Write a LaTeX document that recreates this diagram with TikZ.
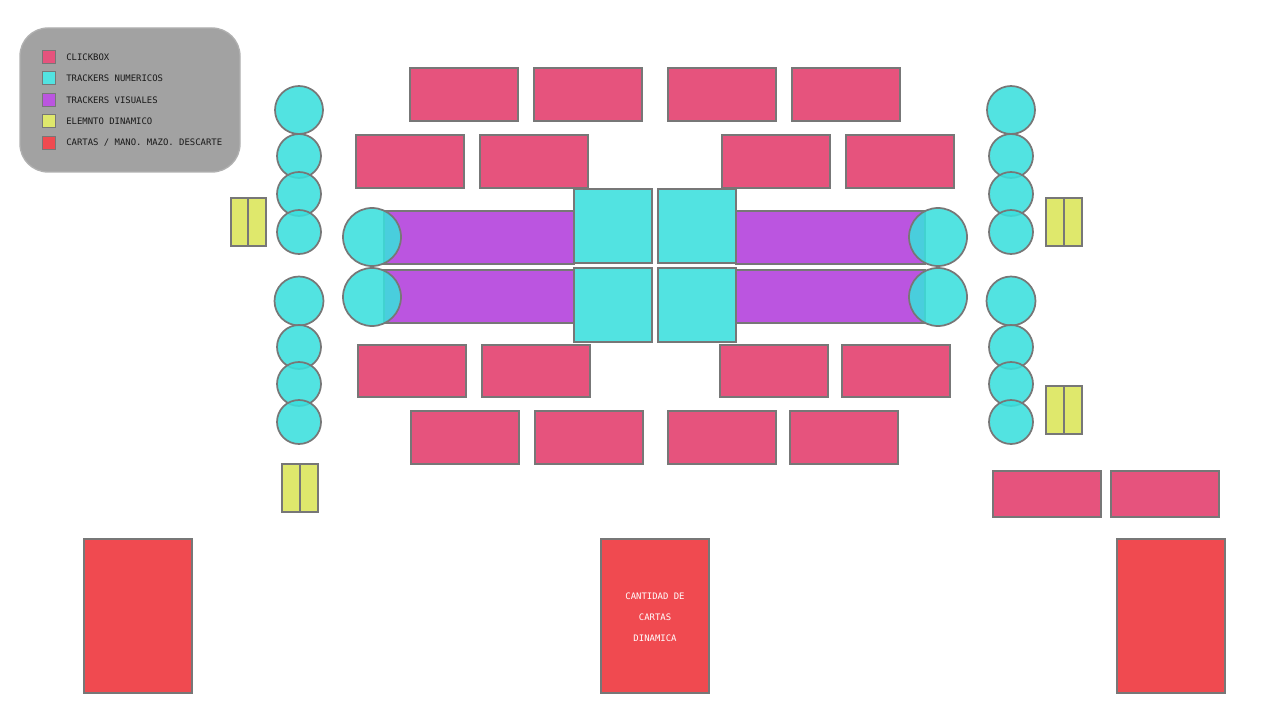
\documentclass[tikz,border=0pt]{standalone}
\usepackage{fontspec}
\setmonofont{DejaVu Sans Mono}
\definecolor{clickc}{HTML}{E6537D}
\definecolor{cyanc}{HTML}{52E3E1}
\definecolor{cyanbase}{HTML}{3ADFDD}
\definecolor{purpc}{HTML}{BB55E0}
\definecolor{yelc}{HTML}{DFE86C}
\definecolor{redc}{HTML}{F04A50}
\definecolor{edgec}{HTML}{777777}
\definecolor{legc}{HTML}{A2A2A2}
\tikzset{
  shp/.style={draw=edgec, line width=1.3pt},
  click/.style={shp, fill=clickc},
  cyanbox/.style={shp, fill=cyanc},
  purpbox/.style={shp, fill=purpc},
  yelbox/.style={shp, fill=yelc},
  redbox/.style={shp, fill=redc},
  circ/.style={shp, fill=cyanbase, fill opacity=0.88},
  legtext/.style={font=\ttfamily\fontsize{6.7pt}{8pt}\selectfont, text=black!90, anchor=west, inner sep=0pt},
  cardtext/.style={font=\ttfamily\fontsize{6.7pt}{8pt}\selectfont, text=white, inner sep=0pt},
  swatch/.style={draw=edgec, line width=1.2pt, minimum width=10pt, minimum height=10pt, inner sep=0pt}
}
\begin{document}
\begin{tikzpicture}[x=0.75pt,y=-0.75pt]
\useasboundingbox (0,0) rectangle (1280,720);
% legend
\draw[draw=legc!85!white, fill=legc, line width=1pt, rounded corners=21pt] (20,28) rectangle (240,172);
\node[swatch, fill=clickc] (s1) at (49,57) {};
\node[swatch, fill=cyanc] (s2) at (49,78) {};
\node[swatch, fill=purpc] (s3) at (49,100) {};
\node[swatch, fill=yelc] (s4) at (49,121) {};
\node[swatch, fill=redc] (s5) at (49,143) {};
\node[legtext] (l1) at (66,57) {CLICKBOX};
\node[legtext] (l2) at (66,78) {TRACKERS NUMERICOS};
\node[legtext] (l3) at (66,100) {TRACKERS VISUALES};
\node[legtext] (l4) at (66,121) {ELEMNTO DINAMICO};
\node[legtext] (l5) at (66,143) {CARTAS / MANO. MAZO. DESCARTE};
% clickboxes
\foreach \xa in {410,534,668,792} \draw[click] (\xa,68) rectangle ++(108,53);
\foreach \xa in {356,480,722,846} \draw[click] (\xa,135) rectangle ++(108,53);
\foreach \xa in {358,482,720,842} \draw[click] (\xa,345) rectangle ++(108,52);
\foreach \xa in {411,535,668,790} \draw[click] (\xa,411) rectangle ++(108,53);
\foreach \xa in {993,1111} \draw[click] (\xa,471) rectangle ++(108,46);
% purple bars
\draw[purpbox] (384,211) rectangle (574,264);
\draw[purpbox] (384,270) rectangle (574,323);
\draw[purpbox] (736,211) rectangle (925,264);
\draw[purpbox] (736,270) rectangle (925,323);
% cyan squares
\draw[cyanbox] (574,189) rectangle (652,263);
\draw[cyanbox] (658,189) rectangle (736,263);
\draw[cyanbox] (574,268) rectangle (652,342);
\draw[cyanbox] (658,268) rectangle (736,342);
% big circles
\draw[circ] (372,237) circle (29);
\draw[circ] (372,297) circle (29);
\draw[circ] (938,237) circle (29);
\draw[circ] (938,297) circle (29);
% small circles columns
\foreach \xc in {299,1011}{
  \draw[circ] (\xc,110) circle (24);
  \draw[circ] (\xc,156) circle (22);
  \draw[circ] (\xc,194) circle (22);
  \draw[circ] (\xc,232) circle (22);
  \draw[circ] (\xc,301) circle (24.5);
  \draw[circ] (\xc,347) circle (22);
  \draw[circ] (\xc,384) circle (22);
  \draw[circ] (\xc,422) circle (22);
}
% yellow dynamic elements
\draw[yelbox] (231,198) rectangle (248,246); \draw[yelbox] (248,198) rectangle (266,246);
\draw[yelbox] (282,464) rectangle (300,512); \draw[yelbox] (300,464) rectangle (318,512);
\draw[yelbox] (1046,198) rectangle (1064,246); \draw[yelbox] (1064,198) rectangle (1082,246);
\draw[yelbox] (1046,386) rectangle (1064,434); \draw[yelbox] (1064,386) rectangle (1082,434);
% cards
\draw[redbox] (84,539) rectangle (192,693);
\draw[redbox] (601,539) rectangle (709,693);
\draw[redbox] (1117,539) rectangle (1225,693);
\node[cardtext] (c1) at (655,596) {CANTIDAD DE};
\node[cardtext] (c2) at (655,617) {CARTAS};
\node[cardtext] (c3) at (655,638) {DINAMICA};
\end{tikzpicture}
\end{document}
